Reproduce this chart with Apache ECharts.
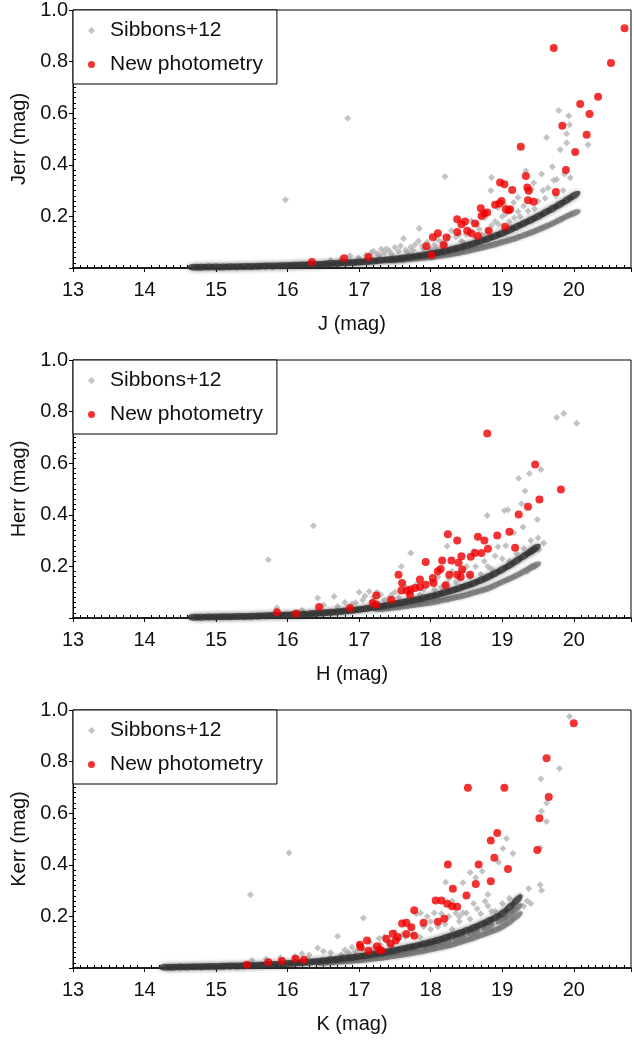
<!DOCTYPE html>
<html>
<head>
<meta charset="utf-8">
<script src="https://cdn.jsdelivr.net/npm/echarts@6/dist/echarts.min.js"></script>
<style>
html,body{margin:0;padding:0;background:#fff;}
#chart{width:634px;height:1041px;}
</style>
</head>
<body>
<div id="chart"></div>
<script>
// ---------------- DATA ----------------
const bandNames = ['J', 'H', 'K'];
const seriesNames = ['Sibbons+12', 'New photometry'];

// J band: New photometry [mag, err]
const jNew = [[16.34,0.023],[16.79,0.038],[17.13,0.043],[17.94,0.084],[18.01,0.05],[18.03,0.119],[18.10,0.135],[18.18,0.089],[18.22,0.118],[18.37,0.189],[18.37,0.14],[18.43,0.17],[18.48,0.18],[18.51,0.144],[18.57,0.135],[18.62,0.172],[18.66,0.124],[18.70,0.232],[18.71,0.202],[18.75,0.211],[18.79,0.215],[18.81,0.144],[18.90,0.245],[18.96,0.25],[18.97,0.331],[18.99,0.26],[19.03,0.325],[19.04,0.16],[19.05,0.228],[19.09,0.224],[19.11,0.228],[19.14,0.302],[19.26,0.47],[19.33,0.357],[19.35,0.312],[19.37,0.299],[19.36,0.263],[19.44,0.257],[19.72,0.853],[19.75,0.295],[19.84,0.551],[19.89,0.38],[20.02,0.45],[20.09,0.636],[20.18,0.516],[20.22,0.597],[20.34,0.664],[20.52,0.795],[20.71,0.929]];
// J band: Sibbons+12 scattered stars
const jSibCloud = [[15.97,0.265],[16.84,0.58],[18.2,0.355],[16.6,0.03],[16.75,0.035],[16.87,0.047],[16.99,0.04],[17.1,0.05],[17.17,0.06],[17.25,0.055],[17.31,0.073],[17.35,0.06],[17.42,0.068],[17.5,0.079],[17.55,0.065],[17.62,0.114],[17.65,0.07],[17.72,0.08],[17.78,0.09],[17.84,0.153],[17.83,0.105],[17.9,0.075],[17.95,0.1],[18.05,0.09],[18.1,0.11],[18.15,0.1],[18.29,0.144],[18.35,0.12],[18.43,0.105],[18.5,0.13],[18.57,0.183],[18.62,0.118],[18.68,0.15],[18.76,0.195],[18.8,0.144],[18.84,0.30],[18.85,0.351],[18.9,0.18],[18.94,0.234],[19.0,0.2],[19.03,0.247],[19.1,0.18],[19.16,0.254],[19.17,0.195],[19.22,0.219],[19.22,0.273],[19.3,0.24],[19.33,0.377],[19.36,0.221],[19.41,0.305],[19.44,0.33],[19.5,0.26],[19.55,0.364],[19.57,0.3],[19.62,0.506],[19.64,0.31],[19.7,0.392],[19.72,0.34],[19.76,0.343],[19.79,0.61],[19.81,0.458],[19.87,0.364],[19.9,0.52],[19.9,0.485],[19.93,0.59],[19.94,0.555],[20.2,0.478],[19.95,0.35],[17.2,0.065],[17.28,0.05],[17.38,0.075],[17.45,0.055],[17.58,0.085],[17.68,0.06],[17.75,0.07],[17.88,0.085],[18.0,0.075],[18.08,0.08],[18.2,0.09],[18.25,0.12],[18.4,0.13],[18.45,0.1],[18.55,0.14],[18.65,0.17],[18.72,0.13],[18.85,0.165],[18.95,0.17],[19.05,0.21],[19.12,0.16],[19.25,0.2],[19.28,0.17],[19.45,0.23],[19.6,0.27],[19.75,0.28],[19.85,0.3]];
// J band: Sibbons+12 main sequence of stars (upper and lower branches)
const jSibSeqA = [[14.7,0.003],[14.8,0.003],[14.9,0.004],[15.0,0.004],[15.1,0.004],[15.2,0.005],[15.3,0.005],[15.4,0.006],[15.5,0.006],[15.6,0.007],[15.7,0.008],[15.8,0.008],[15.9,0.009],[16.0,0.010],[16.1,0.011],[16.2,0.012],[16.3,0.013],[16.4,0.014],[16.5,0.015],[16.6,0.017],[16.7,0.018],[16.8,0.020],[16.9,0.021],[17.0,0.023],[17.1,0.025],[17.2,0.027],[17.3,0.030],[17.4,0.032],[17.5,0.035],[17.6,0.038],[17.7,0.042],[17.8,0.046],[17.9,0.050],[18.0,0.055],[18.1,0.060],[18.2,0.066],[18.3,0.072],[18.4,0.079],[18.5,0.087],[18.6,0.095],[18.7,0.104],[18.8,0.114],[18.9,0.124],[19.0,0.135],[19.1,0.147],[19.2,0.160],[19.3,0.173],[19.4,0.186],[19.5,0.200],[19.6,0.215],[19.7,0.23],[19.8,0.246],[19.9,0.263],[20.0,0.28]];
const jSibSeqB = [[17.5,0.030],[17.6,0.032],[17.7,0.035],[17.8,0.037],[17.9,0.040],[18.0,0.042],[18.1,0.046],[18.2,0.050],[18.3,0.054],[18.4,0.059],[18.5,0.065],[18.6,0.071],[18.7,0.078],[18.8,0.085],[18.9,0.092],[19.0,0.100],[19.1,0.108],[19.2,0.117],[19.3,0.127],[19.4,0.137],[19.5,0.148],[19.6,0.160],[19.7,0.172],[19.8,0.186],[19.9,0.200],[20.0,0.212]];

// H band
const hNew = [[15.85,0.022],[16.12,0.017],[16.44,0.043],[16.87,0.039],[17.19,0.058],[17.24,0.052],[17.24,0.087],[17.45,0.071],[17.55,0.168],[17.60,0.136],[17.59,0.107],[17.67,0.107],[17.71,0.09],[17.72,0.11],[17.78,0.116],[17.85,0.149],[17.85,0.12],[17.93,0.217],[17.93,0.129],[18.03,0.155],[18.04,0.136],[18.10,0.181],[18.14,0.19],[18.16,0.223],[18.21,0.127],[18.24,0.325],[18.26,0.168],[18.29,0.223],[18.37,0.30],[18.37,0.168],[18.39,0.214],[18.42,0.159],[18.43,0.239],[18.44,0.188],[18.55,0.168],[18.56,0.237],[18.62,0.252],[18.66,0.315],[18.71,0.252],[18.75,0.30],[18.79,0.715],[18.80,0.268],[18.93,0.32],[19.10,0.334],[19.18,0.272],[19.23,0.401],[19.36,0.431],[19.46,0.595],[19.52,0.459],[19.82,0.498]];
const hSibCloud = [[15.73,0.226],[16.36,0.358],[15.85,0.04],[16.2,0.03],[16.42,0.078],[16.65,0.083],[16.5,0.05],[16.7,0.045],[16.8,0.06],[16.9,0.055],[17.0,0.1],[17.05,0.07],[17.14,0.103],[17.2,0.08],[17.3,0.09],[17.4,0.075],[17.5,0.1],[17.59,0.2],[17.65,0.12],[17.72,0.252],[17.8,0.13],[17.9,0.11],[18.0,0.14],[18.1,0.16],[18.2,0.13],[18.23,0.278],[18.3,0.18],[18.4,0.15],[18.5,0.2],[18.63,0.2],[18.7,0.17],[18.79,0.397],[18.8,0.2],[18.85,0.19],[18.94,0.276],[19.0,0.23],[19.03,0.417],[19.08,0.42],[19.1,0.22],[19.16,0.33],[19.23,0.542],[19.27,0.443],[19.29,0.353],[19.32,0.492],[19.38,0.56],[19.45,0.2],[19.49,0.382],[19.51,0.265],[19.54,0.576],[19.58,0.291],[19.76,0.777],[19.86,0.793],[20.04,0.755],[19.4,0.3],[19.35,0.18],[16.95,0.06],[17.08,0.085],[17.18,0.065],[17.25,0.1],[17.35,0.07],[17.45,0.09],[17.55,0.08],[17.7,0.1],[17.85,0.09],[18.05,0.11],[18.15,0.12],[18.25,0.15],[18.35,0.14],[18.45,0.18],[18.55,0.16],[18.6,0.26],[18.75,0.22],[18.9,0.24],[19.05,0.28],[19.2,0.25],[19.3,0.27],[19.5,0.31]];
const hSibSeqA = [[14.7,0.003],[14.8,0.003],[14.9,0.004],[15.0,0.004],[15.1,0.005],[15.2,0.005],[15.3,0.006],[15.4,0.006],[15.5,0.007],[15.6,0.008],[15.7,0.009],[15.8,0.010],[15.9,0.011],[16.0,0.012],[16.1,0.013],[16.2,0.014],[16.3,0.016],[16.4,0.018],[16.5,0.020],[16.6,0.022],[16.7,0.024],[16.8,0.027],[16.9,0.030],[17.0,0.033],[17.1,0.037],[17.2,0.041],[17.3,0.045],[17.4,0.050],[17.5,0.055],[17.6,0.060],[17.7,0.066],[17.8,0.071],[17.9,0.077],[18.0,0.084],[18.1,0.091],[18.2,0.099],[18.3,0.107],[18.4,0.116],[18.5,0.125],[18.6,0.135],[18.7,0.146],[18.8,0.159],[18.9,0.173],[19.0,0.188],[19.1,0.204],[19.2,0.222],[19.3,0.240],[19.4,0.258],[19.45,0.268]];
const hSibSeqB = [[17.3,0.035],[17.4,0.038],[17.5,0.041],[17.6,0.044],[17.7,0.048],[17.8,0.052],[17.9,0.056],[18.0,0.060],[18.1,0.065],[18.2,0.071],[18.3,0.077],[18.4,0.083],[18.5,0.090],[18.6,0.098],[18.7,0.106],[18.8,0.115],[18.9,0.127],[19.0,0.140],[19.1,0.152],[19.2,0.165],[19.3,0.180],[19.4,0.195],[19.45,0.202]];

// K band
const kNew = [[15.43,0.013],[15.73,0.022],[15.92,0.027],[16.11,0.036],[16.23,0.032],[17.01,0.09],[17.02,0.08],[17.11,0.107],[17.13,0.067],[17.25,0.084],[17.28,0.071],[17.31,0.068],[17.38,0.113],[17.44,0.094],[17.47,0.133],[17.51,0.107],[17.54,0.12],[17.60,0.172],[17.66,0.175],[17.66,0.132],[17.73,0.158],[17.77,0.125],[17.77,0.224],[17.90,0.175],[18.07,0.262],[18.15,0.262],[18.10,0.179],[18.19,0.191],[18.23,0.249],[18.24,0.401],[18.30,0.239],[18.37,0.237],[18.31,0.307],[18.50,0.281],[18.52,0.699],[18.63,0.326],[18.67,0.401],[18.84,0.494],[18.84,0.336],[18.89,0.427],[18.93,0.523],[19.03,0.699],[19.08,0.384],[19.49,0.457],[19.52,0.58],[19.62,0.813],[19.65,0.663],[20.0,0.949]];
const kSibCloud = [[15.48,0.284],[16.02,0.447],[15.5,0.03],[15.7,0.035],[15.9,0.04],[16.1,0.045],[16.3,0.05],[16.42,0.078],[16.6,0.06],[16.70,0.123],[16.8,0.07],[16.9,0.08],[17.06,0.194],[17.0,0.09],[17.15,0.1],[17.28,0.114],[17.35,0.12],[17.5,0.14],[17.6,0.13],[17.7,0.16],[17.8,0.21],[17.86,0.213],[17.95,0.2],[18.0,0.15],[18.05,0.213],[18.15,0.21],[18.21,0.332],[18.25,0.2],[18.3,0.26],[18.35,0.213],[18.4,0.18],[18.45,0.213],[18.5,0.213],[18.6,0.25],[18.63,0.35],[18.72,0.375],[18.76,0.259],[18.80,0.285],[18.9,0.22],[18.95,0.41],[19.01,0.463],[19.06,0.502],[19.15,0.444],[19.17,0.23],[19.3,0.239],[19.37,0.308],[19.53,0.323],[19.55,0.30],[19.53,0.466],[19.54,0.734],[19.55,0.608],[19.62,0.568],[19.62,0.64],[19.80,0.773],[19.94,0.975],[19.4,0.25],[16.2,0.055],[16.5,0.065],[16.6,0.04],[16.75,0.05],[16.85,0.06],[16.95,0.065],[17.05,0.075],[17.2,0.08],[17.3,0.09],[17.4,0.1],[17.45,0.085],[17.55,0.11],[17.65,0.12],[17.75,0.13],[17.85,0.12],[17.9,0.16],[18.0,0.18],[18.1,0.16],[18.2,0.17],[18.3,0.15],[18.4,0.2],[18.55,0.19],[18.65,0.23],[18.7,0.21],[18.8,0.24],[18.85,0.22],[19.0,0.25],[19.1,0.27],[19.25,0.28],[19.35,0.26],[18.45,0.33],[18.55,0.37]];
const kSibSeqA = [[14.3,0.003],[14.4,0.003],[14.5,0.004],[14.6,0.004],[14.7,0.005],[14.8,0.005],[14.9,0.006],[15.0,0.006],[15.1,0.007],[15.2,0.008],[15.3,0.008],[15.4,0.009],[15.5,0.010],[15.6,0.011],[15.7,0.013],[15.8,0.014],[15.9,0.015],[16.0,0.017],[16.1,0.019],[16.2,0.021],[16.3,0.023],[16.4,0.025],[16.5,0.028],[16.6,0.031],[16.7,0.034],[16.8,0.038],[16.9,0.041],[17.0,0.045],[17.1,0.049],[17.2,0.054],[17.3,0.058],[17.4,0.063],[17.5,0.068],[17.6,0.074],[17.7,0.080],[17.8,0.086],[17.9,0.093],[18.0,0.100],[18.1,0.108],[18.2,0.117],[18.3,0.126],[18.4,0.135],[18.5,0.145],[18.6,0.156],[18.7,0.168],[18.8,0.181],[18.9,0.195],[19.0,0.212],[19.1,0.235],[19.2,0.262]];
const kSibSeqB = [[16.5,0.020],[16.6,0.022],[16.7,0.024],[16.8,0.026],[16.9,0.028],[17.0,0.030],[17.1,0.033],[17.2,0.036],[17.3,0.039],[17.4,0.043],[17.5,0.047],[17.6,0.051],[17.7,0.056],[17.8,0.061],[17.9,0.066],[18.0,0.072],[18.1,0.078],[18.2,0.084],[18.3,0.091],[18.4,0.099],[18.5,0.108],[18.6,0.117],[18.7,0.127],[18.8,0.137],[18.9,0.147],[19.0,0.160],[19.1,0.178],[19.2,0.200],[18.0,0.086],[18.2,0.100],[18.4,0.117],[18.6,0.136],[18.8,0.159],[19.0,0.186],[19.1,0.205],[19.2,0.230]];

const panels = [
  {band: bandNames[0], newPhot: jNew, cloud: jSibCloud, seqA: jSibSeqA, seqB: jSibSeqB},
  {band: bandNames[1], newPhot: hNew, cloud: hSibCloud, seqA: hSibSeqA, seqB: hSibSeqB},
  {band: bandNames[2], newPhot: kNew, cloud: kSibCloud, seqA: kSibSeqA, seqB: kSibSeqB}
];

// ---------------- CHART ----------------
const FONT = 'Liberation Sans, Arial, Helvetica, sans-serif';
const TXT = '#111';
const ELLIPSE = 'path://M0,5 A10,5 0 1,1 20,5 A10,5 0 1,1 0,5 Z';
const PX_PER_MAG = 560 / 7.8, PX_PER_ERR = 258;
const chart = echarts.init(document.getElementById('chart'), null, {renderer: 'canvas'});

// orient each elongated marker of the dense sequence along its neighbours
function alongSequence(arr) {
  return function (value, params) {
    const k = params.dataIndex;
    let a = arr[k], b = arr[k];
    if (k > 0 && arr[k - 1][0] < arr[k][0]) a = arr[k - 1];
    if (k < arr.length - 1 && arr[k + 1][0] > arr[k][0]) b = arr[k + 1];
    if (a === b) return 0;
    return Math.atan2((b[1] - a[1]) * PX_PER_ERR, (b[0] - a[0]) * PX_PER_MAG) * 180 / Math.PI;
  };
}

const grids = [], xAxes = [], yAxes = [], legends = [], series = [];
const tops = [10, 360, 710];
panels.forEach((p, i) => {
  grids.push({left: 73, top: tops[i], right: 1, height: 258, show: true, borderColor: '#000', borderWidth: 1, backgroundColor: 'transparent'});
  xAxes.push({
    gridIndex: i, type: 'value', min: 13, max: 20.8, interval: 1,
    name: p.band + ' (mag)', nameLocation: 'middle', nameGap: 46,
    nameTextStyle: {fontFamily: FONT, fontSize: 20, color: TXT},
    axisLine: {show: true, onZero: false, lineStyle: {color: '#000', width: 1.5}},
    axisTick: {show: true, inside: false, length: 4, lineStyle: {color: '#000'}},
    minorTick: {show: true, splitNumber: 10, length: -3, lineStyle: {color: '#000'}},
    splitLine: {show: false},
    axisLabel: {fontFamily: FONT, fontSize: 20, color: TXT, margin: 12,
      formatter: v => (Math.abs(v - Math.round(v)) < 1e-6 ? String(Math.round(v)) : '')}
  });
  yAxes.push({
    gridIndex: i, type: 'value', min: 0, max: 1, interval: 0.2,
    name: p.band + 'err (mag)', nameLocation: 'middle', nameGap: 44,
    nameTextStyle: {fontFamily: FONT, fontSize: 20, color: TXT},
    axisLine: {show: true, onZero: false, lineStyle: {color: '#000', width: 1}},
    axisTick: {show: true, inside: false, length: 4, lineStyle: {color: '#000'}},
    minorTick: {show: true, splitNumber: 10, length: -3, lineStyle: {color: '#000'}},
    splitLine: {show: false},
    axisLabel: {fontFamily: FONT, fontSize: 20, color: TXT, margin: 5,
      formatter: v => (v < 1e-6 ? '' : v.toFixed(1))}
  });
  legends.push({
    data: seriesNames, orient: 'vertical', left: 73, top: tops[i],
    padding: [10, 14, 9, 15], itemGap: 13, itemWidth: 7, itemHeight: 7,
    backgroundColor: '#fff', borderColor: '#000', borderWidth: 1, borderRadius: 0,
    selectedMode: false, z: 10,
    textStyle: {fontFamily: FONT, fontSize: 21, color: TXT, padding: [0, 0, 0, 10]}
  });
  series.push({type: 'scatter', name: seriesNames[0], xAxisIndex: i, yAxisIndex: i, data: p.cloud,
    symbol: 'diamond', symbolSize: 7, itemStyle: {color: '#b4b4b4'}, z: 2, silent: true});
  series.push({type: 'scatter', name: seriesNames[0], xAxisIndex: i, yAxisIndex: i, data: p.seqB,
    symbol: ELLIPSE, symbolSize: [15, 6], symbolRotate: alongSequence(p.seqB),
    itemStyle: {color: '#7a7a7a', shadowBlur: 3, shadowColor: 'rgba(120,120,120,0.6)'}, z: 3, silent: true});
  series.push({type: 'scatter', name: seriesNames[0], xAxisIndex: i, yAxisIndex: i, data: p.seqA,
    symbol: ELLIPSE, symbolSize: [15, 7], symbolRotate: alongSequence(p.seqA),
    itemStyle: {color: '#363636', shadowBlur: 4, shadowColor: 'rgba(60,60,60,0.6)'}, z: 3, silent: true});
  series.push({type: 'scatter', name: seriesNames[1], xAxisIndex: i, yAxisIndex: i, data: p.newPhot,
    symbol: 'circle', symbolSize: 8, itemStyle: {color: '#f00000'}, z: 5, silent: true});
});

chart.setOption({
  animation: false,
  backgroundColor: '#fff',
  textStyle: {fontFamily: FONT},
  grid: grids, xAxis: xAxes, yAxis: yAxes, legend: legends, series: series
});
</script>
</body>
</html>
